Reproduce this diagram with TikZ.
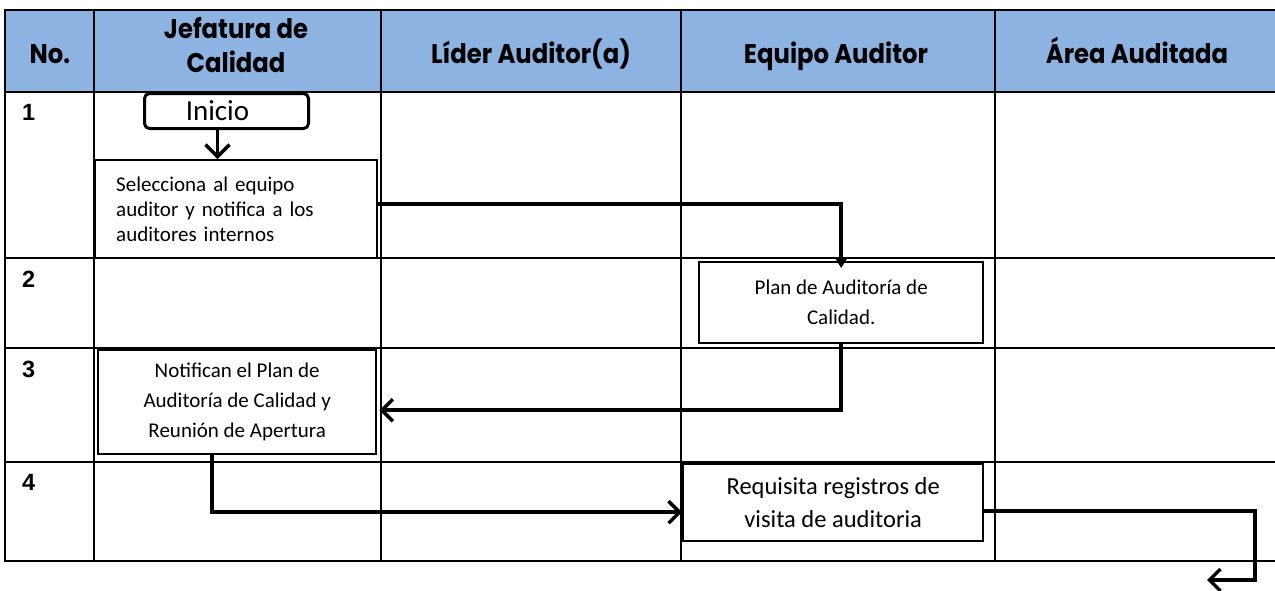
\documentclass[tikz,border=0pt]{standalone}
\usepackage{fontspec}
\setmainfont{Carlito}
\newfontfamily\hdrfont{Poppins}[FakeStretch=0.9]
\newfontfamily\numfont{Liberation Sans}
\usetikzlibrary{arrows.meta}
\definecolor{hdrblue}{RGB}{141,179,226}
\tikzset{
  gridline/.style={line width=2.4pt, line cap=rect},
  hdr/.style={font=\hdrfont\bfseries\fontsize{27}{34}\selectfont, inner sep=0pt, anchor=base},
  rownum/.style={font=\numfont\bfseries\fontsize{23.5}{23.5}\selectfont, anchor=base west, inner sep=0pt},
  procbox/.style={draw, line width=2.4pt, fill=white, anchor=north west, inner sep=0pt, align=center,
    font=\fontsize{21}{30}\selectfont},
  conn/.style={line width=3.5pt},
  barb/.style={-{Straight Barb[length=11pt,width=22pt,line width=3.5pt]}},
}
\begin{document}
\begin{tikzpicture}[x=1pt,y=-1pt]
\useasboundingbox (0,0) rectangle (1275,590);
\clip (0,0) rectangle (1275,590);
% header background
\fill[hdrblue] (5,10) rectangle (1285,92);
% grid
\foreach \yy in {10,92,258,348,462,561} \draw[gridline] (5,\yy) -- (1290,\yy);
\foreach \xx in {5,94,381,681,995} \draw[gridline] (\xx,10) -- (\xx,561);
% header texts
\node[hdr] (hNo) at (50,63) {No.};
\node[hdr] (hJefA) at (236,38) {Jefatura de};
\node[hdr] (hJefB) at (236,72) {Calidad};
\node[hdr] (hLid) at (531,63) {Líder Auditor(a)};
\node[hdr] (hEq) at (836,63) {Equipo Auditor};
\node[hdr] (hArea) at (1137,63) {Área Auditada};
% row numbers
\node[rownum] (n1) at (22,120) {1};
\node[rownum] (n2) at (22,287) {2};
\node[rownum] (n3) at (22,377) {3};
\node[rownum] (n4) at (22,490) {4};
% boxes
\node[procbox, rounded corners=5pt, line width=3pt, minimum width=164pt, minimum height=35pt,
  font=\fontsize{29}{29}\selectfont] (inicio) at (143,92) {Inicio\hspace*{18pt}};
\node[procbox, minimum width=282pt, minimum height=98pt, text width=240pt, inner xsep=21pt,
  align=left, font=\fontsize{21}{25}\selectfont] (sel) at (94,159)
  {Selecciona al equipo\\auditor y notifica a los\\auditores internos};
\node[procbox, minimum width=284pt, minimum height=81pt] (plan) at (698,261)
  {Plan de Auditoría de\\Calidad.};
\node[procbox, minimum width=278pt, minimum height=104pt] (notif) at (97,349)
  {Notifican el Plan de\\Auditoría de Calidad y\\Reunión de Apertura};
\node[procbox, minimum width=300pt, minimum height=77pt, font=\fontsize{24.5}{33}\selectfont] (req) at (682,463)
  {Requisita registros de\\visita de auditoria};
% connectors
\draw[conn, -{Straight Barb[length=12pt,width=24pt,line width=3.5pt]}] ([xshift=-9pt]inicio.south) -- ([xshift=-9pt]inicio.south |- sel.north);
\draw[conn, -{Triangle[length=11pt,width=13pt]}] ([yshift=5pt]sel.east) -| ([yshift=-7pt]plan.north);
\draw[conn, barb] (plan.south) |- ([yshift=-8pt, xshift=2pt]notif.east);
\draw[conn, barb] ([xshift=-25pt]notif.south) |- ([yshift=-9.5pt]req.west);
\coordinate (turn) at (1255,580);
\coordinate (endpt) at (1207,580);
\draw[conn, barb] ([yshift=-8.5pt]req.east) -| (turn) -- (endpt);
\end{tikzpicture}
\end{document}
